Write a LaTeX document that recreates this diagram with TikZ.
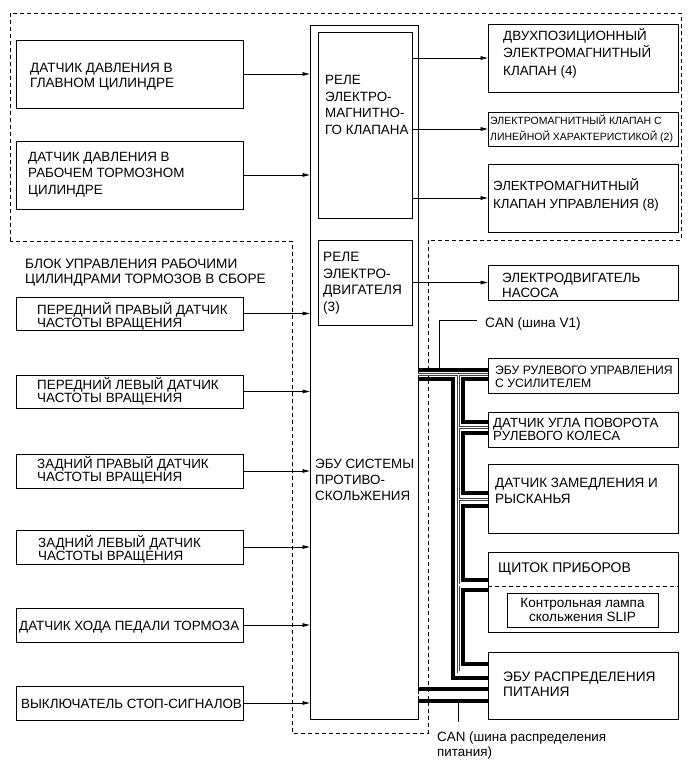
\documentclass[tikz,border=0pt]{standalone}
\usepackage{fontspec}
\setmainfont{Liberation Sans}
\usetikzlibrary{fit,arrows.meta}
\tikzset{
  box/.style={draw, line width=0.8pt, inner sep=0pt},
  txt/.style={anchor=base west, align=left, inner sep=0pt, font=\fontsize{13.4}{16}\selectfont},
  arr/.style={-{Triangle[length=7pt,width=3.6pt]}, line width=0.6pt},
  dsh/.style={dash pattern=on 4pt off 3pt, line width=0.7pt},
  tbus/.style={line width=3.6pt, line join=miter},
  dbo/.style={line width=2.4pt, draw=black!75},
  dbi/.style={line width=1.1pt, draw=white},
  lead/.style={line width=0.6pt},
}
\newcommand{\bx}[5]{\node[box, fit={(#2,#3) (#4,#5)}] (#1) {};}
\begin{document}
\begin{tikzpicture}[x=1pt,y=-1pt]
\useasboundingbox (0,0) rectangle (691,761);
% dashed assembly outline
\draw[dsh] (10,241) -- (10,13) -- (681,13) -- (681,240) -- (428,240) -- (428,733) -- (292,733) -- (292,241) -- cycle;

% boxes
\bx{s1}{16}{40}{243}{108}
\bx{s2}{16}{141}{243}{209}
\bx{ecu}{310}{25}{418}{719}
\bx{rel1}{318}{32}{412}{218}
\bx{rel2}{318}{240}{412}{325}
\bx{r1}{488}{24}{678}{92}
\bx{r2}{488}{112}{678}{146}
\bx{r3}{488}{164}{678}{232}
\bx{pump}{488}{265}{678}{300}
\bx{c1}{488}{358}{678}{393}
\bx{c2}{488}{412}{678}{447}
\bx{c3}{488}{464}{678}{533}
\bx{c4}{488}{552}{678}{632}
\bx{lamp}{507}{593}{658}{627}
\bx{c5}{488}{652}{678}{719}
\bx{w1}{16}{297}{243}{330}
\bx{w2}{16}{375}{243}{408}
\bx{w3}{16}{454}{243}{488}
\bx{w4}{16}{530}{243}{564}
\bx{ped}{16}{608}{243}{642}
\bx{stop}{16}{686}{243}{720}
\draw[dsh, line width=0.6pt] (c4.west |- 0,586) -- (c4.east |- 0,586);

% texts (base anchor = baseline of last line)
\node[txt, font=\fontsize{13.5}{15}\selectfont] (s1t) at (30,87) {ДАТЧИК ДАВЛЕНИЯ В\\ГЛАВНОМ ЦИЛИНДРЕ};
\node[txt, font=\fontsize{13.4}{16.5}\selectfont] (s2t) at (28,194) {ДАТЧИК ДАВЛЕНИЯ В\\РАБОЧЕМ ТОРМОЗНОМ\\ЦИЛИНДРЕ};
\node[txt, font=\fontsize{13.4}{16.7}\selectfont] (rel1t) at (325,134.5) {РЕЛЕ\\ЭЛЕКТРО-\\МАГНИТНО-\\ГО КЛАПАНА};
\node[txt, font=\fontsize{13.6}{16.7}\selectfont] (rel2t) at (323,311.5) {РЕЛЕ\\ЭЛЕКТРО-\\ДВИГАТЕЛЯ\\(3)};
\node[txt, font=\fontsize{13.4}{16}\selectfont] (ecut) at (315,500) {ЭБУ СИСТЕМЫ\\ПРОТИВО-\\СКОЛЬЖЕНИЯ};
\node[txt, font=\fontsize{13.4}{17.5}\selectfont] (r1t) at (503,75) {ДВУХПОЗИЦИОННЫЙ\\ЭЛЕКТРОМАГНИТНЫЙ\\КЛАПАН (4)};
\node[txt, font=\fontsize{10.5}{16}\selectfont] (r2t) at (490,140) {ЭЛЕКТРОМАГНИТНЫЙ КЛАПАН С\\ЛИНЕЙНОЙ ХАРАКТЕРИСТИКОЙ (2)};
\node[txt, font=\fontsize{13.2}{18}\selectfont] (r3t) at (493,208) {ЭЛЕКТРОМАГНИТНЫЙ\\КЛАПАН УПРАВЛЕНИЯ (8)};
\node[txt, font=\fontsize{13.4}{14.5}\selectfont] (pumpt) at (502,297) {ЭЛЕКТРОДВИГАТЕЛЬ\\НАСОСА};
\node[txt, font=\fontsize{13.6}{15}\selectfont] (canA) at (485,327) {CAN (шина V1)};
\node[txt, font=\fontsize{12.2}{13.5}\selectfont] (c1t) at (495,387.5) {ЭБУ РУЛЕВОГО УПРАВЛЕНИЯ\\С УСИЛИТЕЛЕМ};
\node[txt, font=\fontsize{13.3}{13.5}\selectfont] (c2t) at (493,440.5) {ДАТЧИК УГЛА ПОВОРОТА\\РУЛЕВОГО КОЛЕСА};
\node[txt, font=\fontsize{13.5}{16}\selectfont] (c3t) at (495,503) {ДАТЧИК ЗАМЕДЛЕНИЯ И\\РЫСКАНЬЯ};
\node[txt, font=\fontsize{14}{16}\selectfont] (c4t) at (498,572) {ЩИТОК ПРИБОРОВ};
\node[anchor=center, align=center, inner sep=0pt, font=\fontsize{13.5}{13.5}\selectfont] (lampt) at (582.5,610) {Контрольная лампа\\скольжения SLIP};
\node[txt, font=\fontsize{13.7}{15}\selectfont] (c5t) at (503,696) {ЭБУ РАСПРЕДЕЛЕНИЯ\\ПИТАНИЯ};
\node[txt, font=\fontsize{13.4}{15}\selectfont] (canB) at (437,756) {CAN (шина распределения\\питания)};
\node[txt, font=\fontsize{13.6}{15}\selectfont] (blk) at (25,283) {БЛОК УПРАВЛЕНИЯ РАБОЧИМИ\\ЦИЛИНДРАМИ ТОРМОЗОВ В СБОРЕ};
\node[txt, font=\fontsize{13.4}{12.8}\selectfont] (w1t) at (37,327) {ПЕРЕДНИЙ ПРАВЫЙ ДАТЧИК\\ЧАСТОТЫ ВРАЩЕНИЯ};
\node[txt, font=\fontsize{13.4}{12.8}\selectfont] (w2t) at (37,402) {ПЕРЕДНИЙ ЛЕВЫЙ ДАТЧИК\\ЧАСТОТЫ ВРАЩЕНИЯ};
\node[txt, font=\fontsize{13.4}{12.8}\selectfont] (w3t) at (37,481) {ЗАДНИЙ ПРАВЫЙ ДАТЧИК\\ЧАСТОТЫ ВРАЩЕНИЯ};
\node[txt, font=\fontsize{13.4}{12.8}\selectfont] (w4t) at (38,560) {ЗАДНИЙ ЛЕВЫЙ ДАТЧИК\\ЧАСТОТЫ ВРАЩЕНИЯ};
\node[txt] (pedt) at (19,630) {ДАТЧИК ХОДА ПЕДАЛИ ТОРМОЗА};
\node[txt] (stopt) at (21,708) {ВЫКЛЮЧАТЕЛЬ СТОП-СИГНАЛОВ};

% input arrows
\foreach \n in {s1,s2,w1,w2,w3,w4,ped,stop}
  \draw[arr] (\n.east) -- (\n.east -| ecu.west);
% output arrows
\foreach \n in {r1,r2,r3}
  \draw[arr] (\n.west -| rel1.east) -- (\n.west);
\draw[arr] (pump.west -| rel2.east) -- (pump.west);

% CAN V1 bus: thick conductors
\draw[tbus] (ecu.east |- 0,370) -- (c1.west |- 0,370);
\draw[tbus] (ecu.east |- 0,379) -- (453,379) -- (453,678) -- (c5.west |- 0,678);
\draw[tbus] (c1.west |- 0,379) -- (463,379) -- (463,422) -- (c2.west |- 0,422);
\draw[tbus] (c2.west |- 0,433) -- (463,433) -- (463,493) -- (c3.west |- 0,493);
\draw[tbus] (c3.west |- 0,506) -- (463,506) -- (463,580) -- (c4.west |- 0,580);
\draw[tbus] (c4.west |- 0,590) -- (463,590) -- (463,664) -- (c5.west |- 0,664);
% CAN V1 bus: double line
\foreach \s in {dbo,dbi}{
  \draw[\s] (ecu.east |- 0,374.5) -- (c1.west |- 0,374.5);
  \draw[\s] (458.5,374.5) -- (458.5,672) -- (c5.west |- 0,672);
  \draw[\s] (458.5,427.5) -- (c2.west |- 0,427.5);
  \draw[\s] (458.5,499.5) -- (c3.west |- 0,499.5);
  \draw[\s] (458.5,585) -- (c4.west |- 0,585);
}
% power distribution bus
\draw[tbus] (ecu.east |- 0,689) -- (c5.west |- 0,689);
\draw[tbus] (ecu.east |- 0,701) -- (c5.west |- 0,701);
\foreach \s in {dbo,dbi}
  \draw[\s] (ecu.east |- 0,695) -- (c5.west |- 0,695);

% leaders
\coordinate (v1tap) at (439,370);
\draw[lead] (v1tap) |- ([xshift=-8pt,yshift=3pt]canA.west);
\coordinate (pwtap) at (458,701);
\draw[lead] (pwtap) -- (pwtap |- 0,722);
\end{tikzpicture}
\end{document}
